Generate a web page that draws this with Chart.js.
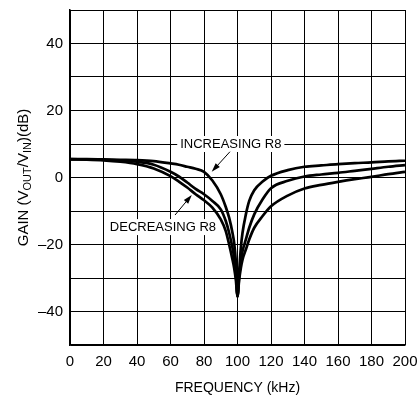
<!DOCTYPE html>
<html>
<head>
<meta charset="utf-8">
<script src="https://cdn.jsdelivr.net/npm/chart.js@4/dist/chart.umd.min.js"></script>
<style>
  html, body { margin: 0; padding: 0; background: #fff; }
  #wrap { width: 419px; height: 395px; }
</style>
</head>
<body>
<div id="wrap"><canvas id="chart" width="419" height="395"></canvas></div>
<script>
// frequency points (kHz)
const freqs = [0, 10, 20, 30, 40, 50, 60, 65, 70, 75, 80, 85, 90, 93, 95, 97, 98, 99, 100,
  101, 102, 103, 105, 107, 110, 115, 120, 130, 140, 150, 160, 170, 180, 190, 200];

// gain (dB) - narrowest notch (increasing R8)
const gainHigh = [5.5, 5.5, 5.4, 5.3, 5.2, 4.9, 4.2, 3.8, 3.2, 2.6, 1.7, -0.9, -5.0, -8.8, -12, -16.5, -19.5, -25, -35.5,
  -28, -21, -16.5, -11, -7, -3.8, -1.2, 0.5, 2.2, 3.2, 3.6, 4.0, 4.3, 4.5, 4.8, 5.0];
const gainMid = [5.5, 5.4, 5.3, 5.1, 4.7, 3.8, 1.7, 0.3, -1.5, -3.4, -5.0, -7.0, -9.5, -13, -16.5, -21, -24, -28.5, -35.5,
  -29.5, -25, -22, -18.5, -15, -11, -6.5, -3.2, -1.0, 0.3, 0.9, 1.4, 2.0, 2.6, 3.2, 3.7];
// widest notch (decreasing R8)
const gainLow = [5.4, 5.3, 5.1, 4.7, 4.0, 2.7, 0.4, -1.2, -3.0, -5.0, -6.8, -9.0, -12.5, -16, -20, -24.5, -27, -30.5, -35.5,
  -30.5, -27, -24.5, -21.5, -18.5, -15, -11.5, -8.6, -5.4, -3.3, -2.2, -1.3, -0.5, 0.2, 1.0, 1.7];

const yTickLabels = { '40': '40', '20': '20', '0': '0', '-20': '\u201320', '-40': '\u201340' };

const FONT = "'Liberation Sans', Arial, sans-serif";

const toPoints = (ys) => freqs.map((f, i) => ({ x: f, y: ys[i] }));

const curve = (ys) => ({
  data: toPoints(ys),
  borderColor: '#000',
  borderWidth: 2.7,
  pointRadius: 0,
  fill: false,
  cubicInterpolationMode: 'monotone',
});

// annotation text + arrows, placed in data units
const notes = [
  { text: 'INCREASING R8', x: 96, y: 10, from: [95.5, 7.7], to: [84.6, 1.7] },
  { text: 'DECREASING R8', x: 55.5, y: -14.8, from: [62.7, -11.2], to: [72.7, -5.2] },
];

const notesPlugin = {
  id: 'notes',
  afterDatasetsDraw(chart) {
    const { ctx, scales: { x, y } } = chart;
    ctx.save();
    ctx.font = '13px ' + FONT;
    ctx.textBaseline = 'middle';
    ctx.textAlign = 'center';
    notes.forEach((n) => {
      const px = x.getPixelForValue(n.x);
      const py = y.getPixelForValue(n.y);
      const w = ctx.measureText(n.text).width;
      ctx.fillStyle = '#fff';
      ctx.fillRect(px - w / 2 - 3, py - 8, w + 6, 16);
      ctx.fillStyle = '#000';
      ctx.fillText(n.text, px, py + 0.5);

      const x1 = x.getPixelForValue(n.from[0]);
      const y1 = y.getPixelForValue(n.from[1]);
      const x2 = x.getPixelForValue(n.to[0]);
      const y2 = y.getPixelForValue(n.to[1]);
      const ang = Math.atan2(y2 - y1, x2 - x1);
      const len = 9;
      ctx.strokeStyle = '#000';
      ctx.lineWidth = 1;
      ctx.beginPath();
      ctx.moveTo(x1, y1);
      ctx.lineTo(x2 - Math.cos(ang) * len * 0.8, y2 - Math.sin(ang) * len * 0.8);
      ctx.stroke();
      ctx.beginPath();
      ctx.moveTo(x2, y2);
      ctx.lineTo(x2 - len * Math.cos(ang) + 2.8 * Math.sin(ang), y2 - len * Math.sin(ang) - 2.8 * Math.cos(ang));
      ctx.lineTo(x2 - len * Math.cos(ang) - 2.8 * Math.sin(ang), y2 - len * Math.sin(ang) + 2.8 * Math.cos(ang));
      ctx.closePath();
      ctx.fillStyle = '#000';
      ctx.fill();
    });
    ctx.restore();
  },
  afterDraw(chart) {
    const { ctx, chartArea } = chart;
    ctx.save();
    ctx.fillStyle = '#000';
    // x title
    ctx.font = '14px ' + FONT;
    ctx.textAlign = 'center';
    ctx.textBaseline = 'alphabetic';
    ctx.fillText('FREQUENCY (kHz)', (chartArea.left + chartArea.right) / 2, 392);

    // y title with subscripts, rotated
    const parts = [
      ['GAIN (V', false], ['OUT', true], ['/V', false], ['IN', true], [')(dB)', false],
    ];
    const big = '15px ' + FONT;
    const small = '11px ' + FONT;
    let total = 0;
    parts.forEach(([t, sub]) => { ctx.font = sub ? small : big; total += ctx.measureText(t).width; });
    ctx.translate(28, (chartArea.top + chartArea.bottom) / 2);
    ctx.rotate(-Math.PI / 2);
    ctx.textAlign = 'left';
    let cx = -total / 2;
    parts.forEach(([t, sub]) => {
      ctx.font = sub ? small : big;
      ctx.fillText(t, cx, sub ? 3 : 0);
      cx += ctx.measureText(t).width;
    });
    ctx.restore();
  },
};

new Chart(document.getElementById('chart'), {
  type: 'line',
  data: {
    datasets: [curve(gainHigh), curve(gainMid), curve(gainLow)],
  },
  options: {
    responsive: false,
    animation: false,
    devicePixelRatio: 1,
    layout: { padding: { top: 10, right: 14, left: 0, bottom: 0 } },
    plugins: { legend: { display: false }, tooltip: { enabled: false } },
    scales: {
      x: {
        type: 'linear',
        min: 0,
        max: 200,
        afterFit: (s) => { s.height = 50; s.paddingLeft = 0; s.paddingRight = 0; },
        ticks: { stepSize: 20, color: '#000', padding: 8, font: { size: 15, family: FONT }, maxRotation: 0 },
        grid: { color: '#000', lineWidth: 1, drawTicks: false },
        border: { color: '#000', width: 1.5 },
      },
      y: {
        min: -50,
        max: 50,
        afterFit: (s) => { s.width = 70; s.paddingTop = 0; s.paddingBottom = 0; },
        ticks: {
          stepSize: 10,
          color: '#000',
          padding: 7,
          font: { size: 15, family: FONT },
          callback: (v) => yTickLabels[String(v)] || '',
        },
        grid: { color: '#000', lineWidth: 1, drawTicks: false },
        border: { color: '#000', width: 1.5 },
      },
    },
  },
  plugins: [notesPlugin],
});
</script>
</body>
</html>
